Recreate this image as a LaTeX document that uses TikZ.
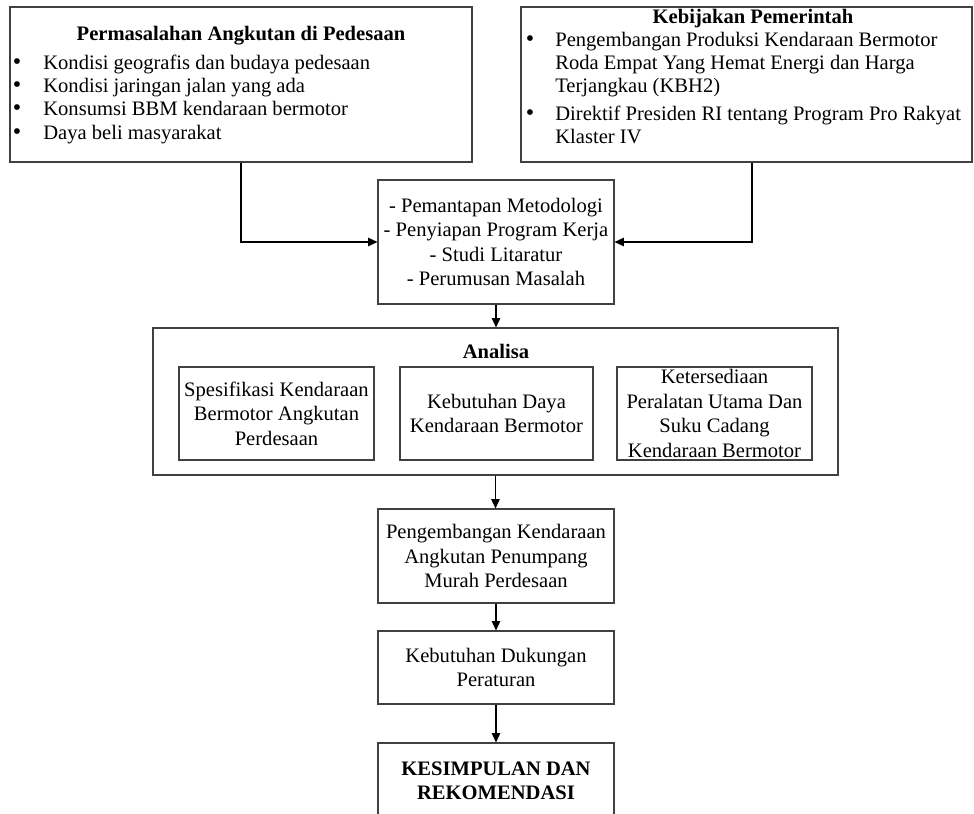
\documentclass[tikz,border=0pt]{standalone}
\usepackage{fontspec}
\setmainfont{Liberation Serif}
\usetikzlibrary{arrows.meta}
\newcommand\pbox[7][]{\node[frame,#1,minimum width={(#5-#3)*0.5833pt},minimum height={(#6-#4)*0.5833pt}] (#2) at ({(#3+#5)/2},{(#4+#6)/2}) {#7};}
\begin{document}
\begin{tikzpicture}[x=0.5833pt,y=-0.5833pt,
  frame/.style={draw=black!75,line width=0.65pt,rectangle,inner sep=0pt,align=center,
    font=\fontsize{12}{14.3}\selectfont},
  txt/.style={inner sep=0pt,font=\fontsize{12}{14}\selectfont},
  bul/.style={inner sep=0pt,font=\fontsize{14}{14}\selectfont,text height=0.55em,text depth=0pt},
  ttl/.style={inner sep=0pt,font=\fontsize{12}{14}\selectfont\bfseries},
  arr/.style={draw=black,line width=0.65pt,-{Triangle[length=5.5pt,width=5pt]}}]
\useasboundingbox (0,0) rectangle (974,814);
\clip (0,0) rectangle (974,814);
% top left box
\pbox{prob}{10}{7}{472}{162}{}
\node[ttl,anchor=base] (probT) at (241,40) {Permasalahan Angkutan di Pedesaan};
\foreach \n/\y/\t in {p1/69/Kondisi geografis dan budaya pedesaan,
  p2/92.3/Kondisi jaringan jalan yang ada,
  p3/115.6/Konsumsi BBM kendaraan bermotor,
  p4/139/Daya beli masyarakat}{
  \node[bul,anchor=base] (\n b) at (17,\y) {\textbullet};
  \node[txt,anchor=base west] (\n) at (43,\y) {\t};
}
% top right box
\pbox{pol}{521}{7}{972}{162}{}
\node[ttl,anchor=base] (polT) at (753,23.5) {Kebijakan Pemerintah};
\node[bul,anchor=base] (q1b) at (530,46) {\textbullet};
\node[bul,anchor=base] (q2b) at (530,120) {\textbullet};
\foreach \n/\y/\t in {q1/46/Pengembangan Produksi Kendaraan Bermotor,
  q1a/69/Roda Empat Yang Hemat Energi dan Harga,
  q1c/92/Terjangkau (KBH2),
  q2/120/Direktif Presiden RI tentang Program Pro Rakyat,
  q2a/143/Klaster IV}{
  \node[txt,anchor=base west] (\n) at (555,\y) {\t};
}
% middle box
\pbox{mid}{378}{180}{614}{304}{- Pemantapan Metodologi\\- Penyiapan Program Kerja\\- Studi Litaratur\\- Perumusan Masalah}
% analisa
\pbox{ana}{153}{328}{838}{475}{}
\node[ttl] (anaT) at (496,351) {Analisa};
\pbox{a1}{179}{367}{374}{460}{Spesifikasi Kendaraan\\Bermotor Angkutan\\Perdesaan}
\pbox{a2}{400}{367}{593}{460}{Kebutuhan Daya\\Kendaraan Bermotor}
\pbox{a3}{617}{367}{812}{460}{Ketersediaan\\Peralatan Utama Dan\\Suku Cadang\\Kendaraan Bermotor}
% lower column
\pbox{peng}{378}{509}{614}{603}{Pengembangan Kendaraan\\Angkutan Penumpang\\Murah Perdesaan}
\pbox{duk}{378}{631}{614}{704}{Kebutuhan Dukungan\\Peraturan}
\pbox{kes}{378}{743}{614}{838}{}
\node[ttl,align=center] (kesT) at (496,781) {KESIMPULAN DAN\\REKOMENDASI};
% connectors
\draw[arr] (prob.south) |- (mid.west);
\draw[arr] ([xshift=3.2pt]pol.south) |- (mid.east);
\draw[arr] (mid.south) -- (mid.south |- ana.north);
\draw[arr] (ana.south) -- (ana.south |- peng.north);
\draw[arr] (peng.south) -- (peng.south |- duk.north);
\draw[arr] (duk.south) -- (duk.south |- kes.north);
\end{tikzpicture}
\end{document}
